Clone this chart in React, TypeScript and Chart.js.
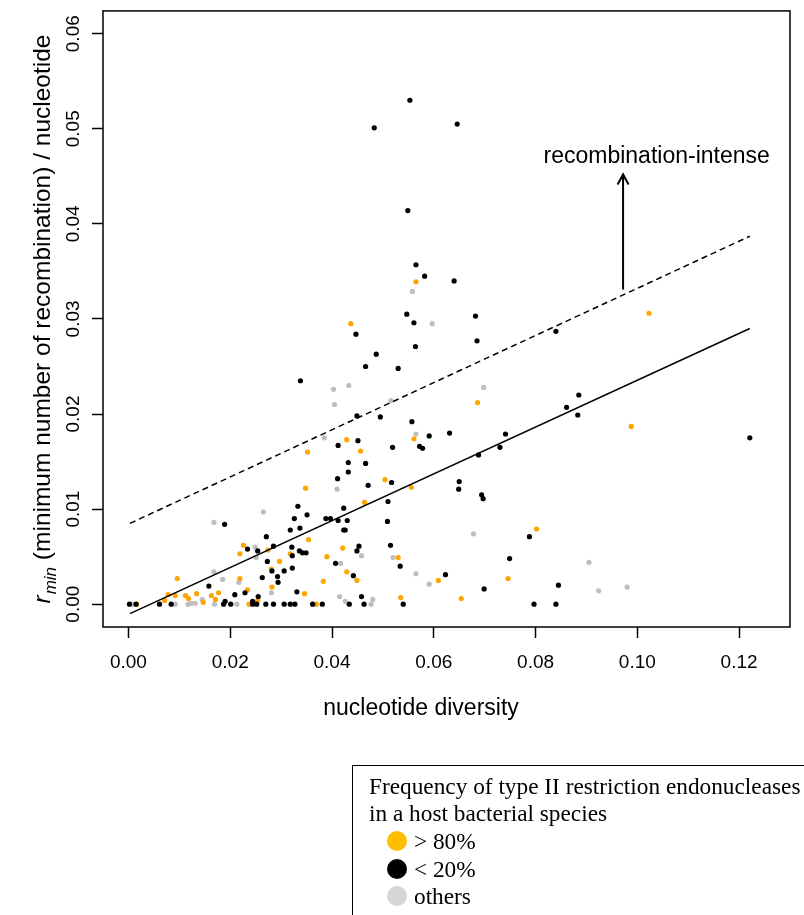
import React, { useEffect, useRef } from "react";
import { Chart, registerables } from "chart.js";

Chart.register(...registerables);

// ---------- data ----------
const X_TICKS = [0, 0.02, 0.04, 0.06, 0.08, 0.1, 0.12];
const Y_TICKS = [0, 0.01, 0.02, 0.03, 0.04, 0.05, 0.06];
const X_MIN = -0.005;
const X_MAX = 0.13;
const Y_MIN = -0.0024;
const Y_MAX = 0.0624;

const X_TITLE = "nucleotide diversity";
const Y_TITLE_REST = " (minimum number of recombination) / nucleotide";

// > 80% (orange)
const highX = [0.0016, 0.0226, 0.0219, 0.0096, 0.0219, 0.0234, 0.0078, 0.0092, 0.0071, 0.0112, 0.0118, 0.0134, 0.0147, 0.0163, 0.0177, 0.0171, 0.0237, 0.0352, 0.0456, 0.0504, 0.0348, 0.0464, 0.0354, 0.0274, 0.0318, 0.0297, 0.0281, 0.0282, 0.0346, 0.0254, 0.0369, 0.0383, 0.039, 0.0421, 0.0429, 0.0449, 0.0556, 0.053, 0.0609, 0.0746, 0.0535, 0.0654, 0.0802, 0.0437, 0.0561, 0.0429, 0.0565, 0.0686, 0.1023, 0.0988];
const highY = [0, 0.0062, 0.0053, 0.0027, 0.0027, 0.0015, 0.001, 0.0009, 0.0004, 0.0009, 0.0006, 0.0011, 0.0002, 0.0009, 0.0012, 0.0005, 0, 0.016, 0.0161, 0.0131, 0.0122, 0.0107, 0.0068, 0.0057, 0.0053, 0.0045, 0.0037, 0.0018, 0.0011, 0.0004, 0, 0.0024, 0.005, 0.0059, 0.0034, 0.0025, 0.0123, 0.0049, 0.0025, 0.0027, 0.0007, 0.0006, 0.0079, 0.0295, 0.0174, 0.0173, 0.0339, 0.0212, 0.0306, 0.0187];

// < 20% (black)
const lowX = [0.0002, 0.0015, 0.0189, 0.0234, 0.0158, 0.0229, 0.0187, 0.019, 0.0201, 0.0209, 0.0061, 0.0084, 0.0432, 0.0466, 0.0432, 0.0411, 0.0471, 0.051, 0.0333, 0.0351, 0.0326, 0.0388, 0.0397, 0.0423, 0.0412, 0.043, 0.0509, 0.0337, 0.0318, 0.0423, 0.0426, 0.0271, 0.0254, 0.0285, 0.0273, 0.0321, 0.0322, 0.0336, 0.0342, 0.0349, 0.0282, 0.0306, 0.0322, 0.0263, 0.0293, 0.0294, 0.0331, 0.0255, 0.0244, 0.0244, 0.0252, 0.027, 0.0285, 0.0306, 0.0318, 0.0327, 0.0362, 0.0381, 0.0407, 0.0449, 0.0453, 0.0442, 0.0458, 0.0434, 0.0463, 0.0688, 0.0517, 0.065, 0.0649, 0.0694, 0.0697, 0.0788, 0.0515, 0.0534, 0.0749, 0.0623, 0.0699, 0.054, 0.0845, 0.0797, 0.084, 0.0547, 0.0561, 0.0447, 0.0564, 0.0487, 0.0466, 0.053, 0.0338, 0.0449, 0.0495, 0.0557, 0.0591, 0.0451, 0.0412, 0.0519, 0.0572, 0.0578, 0.0582, 0.064, 0.0682, 0.0685, 0.084, 0.0631, 0.0741, 0.073, 0.0861, 0.0885, 0.0883, 0.1221, 0.0646, 0.0553, 0.0483, 0.0549, 0.0565];
const lowY = [0, 0, 0.0084, 0.0058, 0.0019, 0.0012, 0, 0.0003, 0, 0.001, 0, 0, 0.0149, 0.0148, 0.0139, 0.0132, 0.0125, 0.0108, 0.0103, 0.0094, 0.009, 0.009, 0.009, 0.0101, 0.0088, 0.0088, 0.0087, 0.008, 0.0078, 0.0078, 0.0078, 0.0071, 0.0056, 0.0061, 0.0045, 0.006, 0.0051, 0.0056, 0.0054, 0.0054, 0.0035, 0.0035, 0.0038, 0.0028, 0.0029, 0.0023, 0.0013, 0.0008, 0.0003, 0, 0, 0, 0, 0, 0, 0, 0, 0, 0.0043, 0.0056, 0.0061, 0.003, 0.0008, 0, 0, 0.0157, 0.0128, 0.0129, 0.0121, 0.0115, 0.0111, 0.0071, 0.0062, 0.004, 0.0048, 0.0031, 0.0016, 0, 0.002, 0, 0, 0.0305, 0.0296, 0.0284, 0.0271, 0.0263, 0.025, 0.0248, 0.0235, 0.0198, 0.0197, 0.0192, 0.0177, 0.0172, 0.0167, 0.0165, 0.0166, 0.0164, 0.0345, 0.034, 0.0303, 0.0277, 0.0287, 0.018, 0.0179, 0.0165, 0.0207, 0.022, 0.0199, 0.0175, 0.0505, 0.053, 0.0501, 0.0414, 0.0357];

// others (gray)
const otherX = [0.0008, 0.0168, 0.0168, 0.0185, 0.0217, 0.0145, 0.0169, 0.0213, 0.0092, 0.0117, 0.0123, 0.0131, 0.041, 0.0265, 0.0249, 0.0251, 0.0281, 0.0417, 0.0458, 0.0415, 0.0426, 0.048, 0.0477, 0.0678, 0.052, 0.0565, 0.0591, 0.0905, 0.0924, 0.098, 0.0403, 0.0433, 0.0405, 0.0516, 0.0565, 0.0385, 0.0597, 0.0698, 0.0558];
const otherY = [0, 0.0086, 0.0034, 0.0026, 0.0023, 0.0005, 0, 0, 0, 0, 0.0001, 0.0001, 0.0121, 0.0097, 0.006, 0.0049, 0.0012, 0.0043, 0.0051, 0.0008, 0.0003, 0.0005, 0, 0.0074, 0.0049, 0.0032, 0.0021, 0.0044, 0.0014, 0.0018, 0.0226, 0.023, 0.021, 0.0214, 0.0179, 0.0175, 0.0295, 0.0228, 0.0329];

// regression line and upper (dashed) line
const fitX = [0.0003, 0.1221];
const fitY = [-0.001, 0.029];
const upperY = [0.0085, 0.0387];

// annotation
const ARROW_X = 0.0972;
const ARROW_Y = [0.0331, 0.0452];
const NOTE_TEXT = "recombination-intense";
const NOTE_POS = [0.1038, 0.0471];

const LEGEND_TITLE = ["Frequency of type II restriction endonucleases", "in a host bacterial species"];
const LEGEND_LABELS = ["> 80%", "< 20%", "others"];
const LEGEND_COLORS = ["#FFBE00", "#000000", "#D6D6D6"];

const POINT_COLORS = ["#FFA500", "#000000", "#BEBEBE"];
const SANS = "'Liberation Sans', Arial, Helvetica, sans-serif";

const toPts = (xs: number[], ys: number[]) => xs.map((x, i) => ({ x, y: ys[i] }));

const overlay = {
  id: "overlay",
  afterDraw(chart: any) {
    const { ctx, chartArea, scales } = chart;
    const xs = scales.x;
    const ys = scales.y;
    ctx.save();
    // box
    ctx.strokeStyle = "#000";
    ctx.lineWidth = 1.5;
    ctx.strokeRect(chartArea.left, chartArea.top, chartArea.right - chartArea.left, chartArea.bottom - chartArea.top);

    // arrow
    const ax = xs.getPixelForValue(ARROW_X);
    const ay0 = ys.getPixelForValue(ARROW_Y[0]);
    const ay1 = ys.getPixelForValue(ARROW_Y[1]);
    ctx.lineWidth = 2;
    ctx.beginPath();
    ctx.moveTo(ax, ay0);
    ctx.lineTo(ax, ay1);
    ctx.moveTo(ax - 5.5, ay1 + 10);
    ctx.lineTo(ax, ay1);
    ctx.lineTo(ax + 5.5, ay1 + 10);
    ctx.stroke();

    // note text
    ctx.fillStyle = "#000";
    ctx.font = `23px ${SANS}`;
    ctx.textAlign = "center";
    ctx.textBaseline = "middle";
    ctx.fillText(NOTE_TEXT, xs.getPixelForValue(NOTE_POS[0]), ys.getPixelForValue(NOTE_POS[1]));

    // x axis title
    ctx.fillText(X_TITLE, 421, 709);

    // y axis title
    const cy = 319;
    ctx.translate(41, cy);
    ctx.rotate(-Math.PI / 2);
    ctx.textAlign = "left";
    ctx.textBaseline = "alphabetic";
    const fMain = `24.5px ${SANS}`;
    const fIt = `italic 24.5px ${SANS}`;
    const fSub = `italic 17px ${SANS}`;
    ctx.font = fIt;
    const wr = ctx.measureText("r").width;
    ctx.font = fSub;
    const wm = ctx.measureText("min").width;
    ctx.font = fMain;
    const wrest = ctx.measureText(Y_TITLE_REST).width;
    const total = wr + 1 + wm + wrest;
    let x = -total / 2;
    const base = 8.5;
    ctx.font = fIt;
    ctx.fillText("r", x, base);
    x += wr + 1;
    ctx.font = fSub;
    ctx.fillText("min", x, base + 6);
    x += wm;
    ctx.font = fMain;
    ctx.fillText(Y_TITLE_REST, x, base);
    ctx.restore();
  },
};

export default function App() {
  const ref = useRef<HTMLCanvasElement | null>(null);

  useEffect(() => {
    if (!ref.current) return;
    const chart = new Chart(ref.current, {
      type: "scatter",
      data: {
        datasets: [
          {
            label: "fit",
            type: "line",
            data: toPts(fitX, fitY),
            borderColor: "#000",
            borderWidth: 1.5,
            pointRadius: 0,
            fill: false,
          },
          {
            label: "upper",
            type: "line",
            data: toPts(fitX, upperY),
            borderColor: "#000",
            borderWidth: 1.5,
            borderDash: [6, 4],
            pointRadius: 0,
            fill: false,
          },
          {
            label: LEGEND_LABELS[1],
            data: toPts(lowX, lowY),
            backgroundColor: POINT_COLORS[1],
            borderWidth: 0,
            pointRadius: 2.6,
          },
          {
            label: LEGEND_LABELS[0],
            data: toPts(highX, highY),
            backgroundColor: POINT_COLORS[0],
            borderWidth: 0,
            pointRadius: 2.6,
          },
          {
            label: LEGEND_LABELS[2],
            data: toPts(otherX, otherY),
            backgroundColor: POINT_COLORS[2],
            borderWidth: 0,
            pointRadius: 2.6,
          },
        ],
      },
      options: {
        responsive: false,
        animation: false,
        events: [],
        layout: { padding: { left: 0, top: 10, right: 14, bottom: 185 } },
        plugins: { legend: { display: false }, tooltip: { enabled: false } },
        scales: {
          x: {
            type: "linear",
            min: X_MIN,
            max: X_MAX,
            afterBuildTicks: (s: any) => {
              s.ticks = X_TICKS.map((v) => ({ value: v }));
            },
            afterFit: (s: any) => {
              s.height = 103;
            },
            grid: { display: true, drawOnChartArea: false, drawTicks: true, tickLength: 11, tickWidth: 1.5, tickColor: "#000" },
            border: { display: false },
            ticks: {
              color: "#000",
              font: { family: SANS, size: 19 },
              padding: 13.5,
              autoSkip: false,
              minRotation: 0,
              maxRotation: 0,
              callback: (v: any) => Number(v).toFixed(2),
            },
            title: { display: false },
          },
          y: {
            type: "linear",
            min: Y_MIN,
            max: Y_MAX,
            afterBuildTicks: (s: any) => {
              s.ticks = Y_TICKS.map((v) => ({ value: v }));
            },
            afterFit: (s: any) => {
              s.width = 103;
            },
            grid: { display: true, drawOnChartArea: false, drawTicks: true, tickLength: 11, tickWidth: 1.5, tickColor: "#000" },
            border: { display: false },
            ticks: {
              color: "#000",
              font: { family: SANS, size: 19 },
              padding: -0.5,
              autoSkip: false,
              minRotation: 90,
              maxRotation: 90,
              crossAlign: "center",
              callback: (v: any) => Number(v).toFixed(2),
            },
            title: { display: false },
          },
        },
      },
      plugins: [overlay],
    } as any);
    return () => chart.destroy();
  }, []);

  const legendFont = "'Liberation Serif', 'Times New Roman', serif";

  return (
    <div style={{ position: "absolute", left: 0, top: 0, width: 804, height: 915, overflow: "hidden", background: "#fff" }}>
      <canvas ref={ref} width={804} height={915} style={{ display: "block" }} />
      <div
        style={{
          position: "absolute",
          left: 352,
          top: 765,
          width: 480,
          height: 180,
          border: "1px solid #000",
          boxSizing: "border-box",
          padding: "6.6px 0 0 16px",
          fontFamily: legendFont,
          fontSize: 23.3,
          lineHeight: "27.7px",
          color: "#000",
          whiteSpace: "nowrap",
        }}
      >
        {LEGEND_TITLE.map((t) => (
          <div key={t}>{t}</div>
        ))}
        {LEGEND_LABELS.map((label, i) => (
          <div key={label} style={{ display: "flex", alignItems: "center", paddingLeft: 18 }}>
            <span
              style={{
                display: "inline-block",
                width: 20,
                height: 20,
                borderRadius: "50%",
                background: LEGEND_COLORS[i],
                marginRight: 7,
                position: "relative",
                top: -1,
              }}
            />
            <span>{label}</span>
          </div>
        ))}
      </div>
    </div>
  );
}
